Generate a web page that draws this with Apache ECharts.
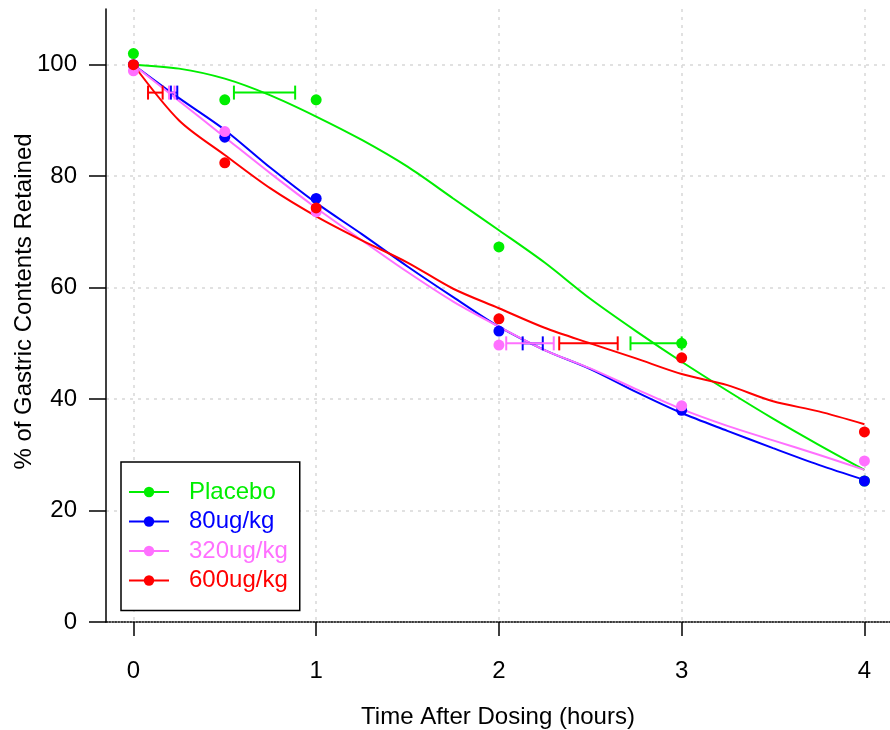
<!DOCTYPE html>
<html>
<head>
<meta charset="utf-8">
<script src="https://cdn.jsdelivr.net/npm/echarts@6/dist/echarts.min.js"></script>
<style>
  html, body { margin: 0; padding: 0; background: #fff; }
  #chart { width: 890px; height: 730px; }
</style>
</head>
<body>
<div id="chart"></div>
<script>
// groups and colours
const groups = ['Placebo', '80ug/kg', '320ug/kg', '600ug/kg'];
const groupColors = ['#00ee00', '#0000ff', '#ff70ff', '#ff0000'];

// observed means (time in hours)
const sampleTimes = [0, 0.5, 1, 2, 3, 4];
const placeboObs = [102, 93.7, 93.7, 67.3, 50, 25.3];
const dose80Obs = [100, 87, 76, 52.2, 38, 25.3];
const dose320Obs = [98.9, 88, 73.6, 49.7, 38.8, 28.9];
const dose600Obs = [100, 82.4, 74.3, 54.4, 47.4, 34.1];

// fitted curves
const fitTimes = [0, 0.25, 0.5, 0.75, 1, 1.25, 1.5, 1.75, 2, 2.25, 2.5, 2.75, 3, 3.25, 3.5, 3.75, 4];
const placeboFit = [100, 99.3, 97.5, 94.5, 90.7, 86.5, 81.7, 76, 70.3, 64.5, 58, 52.2, 46.7, 41.5, 36.5, 31.8, 27.3];
const dose80Fit = [100, 94, 88.3, 81.5, 75.2, 69.6, 63.8, 58.3, 53, 48.8, 45.4, 41.3, 37.5, 34.3, 31.2, 28.2, 25.5];
const dose320Fit = [100, 93.5, 87, 80.5, 74.3, 68.5, 62.8, 57.5, 53, 48.8, 45.5, 41.8, 38.2, 35.2, 32.6, 30, 27.3];
const dose600Fit = [100, 90, 83.8, 77.8, 72.8, 68.5, 64.5, 59.8, 56.3, 52.8, 50, 47.3, 44.5, 42.5, 39.6, 37.8, 35.5];

// horizontal bars: [from, to, level]
const placeboBars = [[0.55, 0.885, 95], [2.72, 3.0, 50]];
const dose80Bars = [[0.205, 0.24, 95], [2.13, 2.24, 50]];
const dose320Bars = [[0.195, 0.225, 95], [2.04, 2.3, 50]];
const dose600Bars = [[0.08, 0.16, 95], [2.33, 2.65, 50]];

const yTicks = [0, 20, 40, 60, 80, 100];
const xTicks = [0, 1, 2, 3, 4];

const obsList = [placeboObs, dose80Obs, dose320Obs, dose600Obs];
const fitList = [placeboFit, dose80Fit, dose320Fit, dose600Fit];
const barList = [placeboBars, dose80Bars, dose320Bars, dose600Bars];

const fontFamily = '"Liberation Sans", Arial, sans-serif';

function pairs(xs, ys) {
    return xs.map((x, i) => [x, ys[i]]);
}

function barRenderer(color) {
    return function (params, api) {
        const y = api.value(2);
        const a = api.coord([api.value(0), y]);
        const b = api.coord([api.value(1), y]);
        const h = 7;
        const style = { stroke: color, lineWidth: 2 };
        return {
            type: 'group',
            children: [
                { type: 'line', shape: { x1: a[0], y1: a[1], x2: b[0], y2: b[1] }, style: style },
                { type: 'line', shape: { x1: a[0], y1: a[1] - h, x2: a[0], y2: a[1] + h }, style: style },
                { type: 'line', shape: { x1: b[0], y1: b[1] - h, x2: b[0], y2: b[1] + h }, style: style }
            ]
        };
    };
}

const series = [];
// curves first so the legend icon comes from them
groups.forEach((name, i) => {
    series.push({
        name: name,
        type: 'line',
        data: pairs(fitTimes, fitList[i]),
        smooth: 0.3,
        showSymbol: false,
        symbol: 'circle',
        lineStyle: { color: groupColors[i], width: 2 },
        itemStyle: { color: groupColors[i] },
        z: 2
    });
});
groups.forEach((name, i) => {
    series.push({
        name: name + ' bars',
        type: 'custom',
        renderItem: barRenderer(groupColors[i]),
        data: barList[i],
        encode: { x: [0, 1], y: 2 },
        z: 3
    });
});
groups.forEach((name, i) => {
    series.push({
        name: name,
        type: 'scatter',
        data: pairs(sampleTimes, obsList[i]),
        symbol: 'circle',
        symbolSize: 11,
        itemStyle: { color: groupColors[i], opacity: 1 },
        z: 4
    });
});

const chart = echarts.init(document.getElementById('chart'));
chart.setOption({
    animation: false,
    backgroundColor: '#fff',
    grid: { left: 106, right: 0, top: 9, bottom: 108, outerBoundsMode: 'none', containLabel: false },
    xAxis: {
        type: 'value',
        min: -0.15,
        max: 4.14,
        name: 'Time After Dosing (hours)',
        nameLocation: 'middle',
        nameGap: 83,
        nameTextStyle: { color: '#000', fontSize: 24, fontFamily: fontFamily },
        axisLine: { show: true, onZero: false, lineStyle: { color: '#000', width: 1.5, type: 'dotted' } },
        axisTick: { show: true, customValues: xTicks, length: 14, lineStyle: { color: '#000', width: 1.5 } },
        axisLabel: { customValues: xTicks, margin: 37, color: '#000', fontSize: 24, fontFamily: fontFamily },
        splitLine: { show: true, lineStyle: { color: '#d8d8d8', width: 1.5, type: [3, 5] } }
    },
    yAxis: {
        type: 'value',
        min: 0,
        max: 110,
        name: '% of Gastric Contents Retained',
        nameLocation: 'middle',
        nameGap: 70,
        nameMoveOverlap: false,
        nameTextStyle: { color: '#000', fontSize: 24, fontFamily: fontFamily, padding: [0, 0, 0, 28] },
        axisLine: { show: true, onZero: false, lineStyle: { color: '#000', width: 1.5 } },
        axisTick: { show: true, customValues: yTicks, length: 17, lineStyle: { color: '#000', width: 1.5 } },
        axisLabel: { customValues: yTicks, margin: 29, color: '#000', fontSize: 24, fontFamily: fontFamily },
        splitLine: { show: true, lineStyle: { color: '#d8d8d8', width: 1.5, type: [3, 5] } }
    },
    legend: {
        data: groups.map((name, i) => ({ name: name, textStyle: { color: groupColors[i] } })),
        orient: 'vertical',
        left: 121,
        top: 462,
        itemWidth: 40,
        itemHeight: 13,
        itemGap: 5.5,
        padding: [18, 12, 18, 7],
        backgroundColor: '#fff',
        borderColor: '#000',
        borderWidth: 1.5,
        borderRadius: 0,
        selectedMode: false,
        textStyle: { fontSize: 24, fontFamily: fontFamily, padding: [0, 0, 0, 15], lineHeight: 22 }
    },
    series: series
});
</script>
</body>
</html>
